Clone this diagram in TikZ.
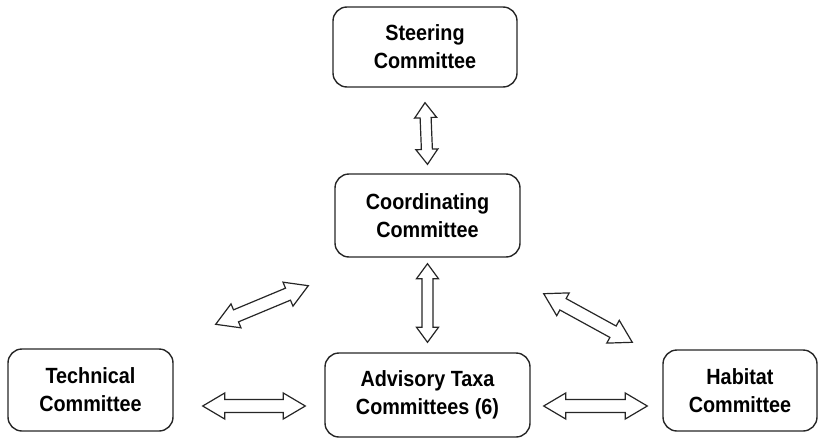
\documentclass[tikz,border=0pt]{standalone}
\usepackage{fontspec}
\setmainfont{Liberation Sans}[FakeStretch=0.9]
\usetikzlibrary{calc}

\begin{document}
\begin{tikzpicture}[
    x=1pt, y=-1pt,
    comm/.style={draw=black!85, line width=1.4pt, rounded corners=14pt, align=center, font=\fontsize{22}{28}\selectfont\bfseries, inner sep=0pt},
    dblarrow/.style n args={3}{draw=black!85, line width=1.2pt, fill=white, line join=miter, to path={
      ($(\tikztostart)!#3!(\tikztotarget)$) coordinate (ha)
      ($(\tikztotarget)!#3!(\tikztostart)$) coordinate (hb)
      (\tikztostart) -- ($(ha)!#1!90:(\tikztotarget)$) -- ($(ha)!#2!90:(\tikztotarget)$)
      -- ($(hb)!#2!-90:(\tikztostart)$) -- ($(hb)!#1!-90:(\tikztostart)$) -- (\tikztotarget)
      -- ($(hb)!#1!90:(\tikztostart)$) -- ($(hb)!#2!90:(\tikztostart)$)
      -- ($(ha)!#2!-90:(\tikztotarget)$) -- ($(ha)!#1!-90:(\tikztotarget)$) -- cycle}},
    vert/.style={dblarrow={11pt}{5.5pt}{15pt}},
    wide/.style={dblarrow={13pt}{6.5pt}{22pt}}
]
\useasboundingbox (0,0) rectangle (820,442);

\node[comm, minimum width=184pt, minimum height=80pt] (steer) at (425,47) {Steering\\Committee};
\node[comm, minimum width=185pt, minimum height=83pt] (coord) at (427.5,215.5) {Coordinating\\Committee};
\node[comm, minimum width=205pt, minimum height=84pt] (taxa) at (427.5,395) {Advisory Taxa\\Committees (6)};
\node[comm, minimum width=165pt, minimum height=82pt] (tech) at (90.5,390) {Technical\\Committee};
\node[comm, minimum width=154pt, minimum height=81pt] (habitat) at (740,390.5) {Habitat\\Committee};

% vertical links
\draw[vert] ([yshift=-15pt]steer.south) to ([yshift=9pt]coord.north);
\draw[vert] ([yshift=-6pt]coord.south) to ([yshift=10pt]taxa.north);

% bottom row
\draw[wide] ([shift={(29pt,-16pt)}]tech.east) to ([shift={(-19pt,-11pt)}]taxa.west);
\draw[wide] ([shift={(13pt,-11pt)}]taxa.east) to ([shift={(-15pt,-15.5pt)}]habitat.west);

% diagonals
\draw[wide] ([shift={(42pt,24pt)}]tech.north east) to ([shift={(-26pt,-28pt)}]coord.south west);
\draw[wide] ([shift={(23pt,-36pt)}]coord.south east) to ([shift={(-30pt,7pt)}]habitat.north west);
\end{tikzpicture}
\end{document}
